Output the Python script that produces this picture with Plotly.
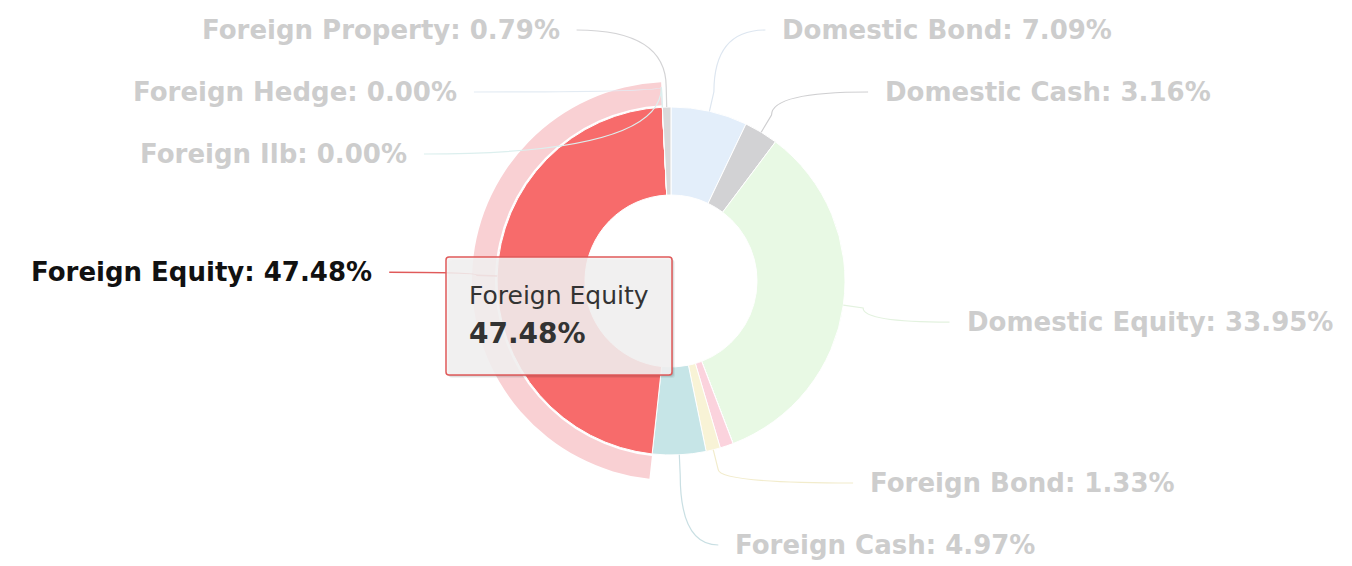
import numpy as np
import plotly.graph_objects as go

# ---------------- data ----------------
names = ["Domestic Bond", "Domestic Cash", "Domestic Equity", "Domestic Ilb",
         "Domestic Hedge", "Domestic Property", "Foreign Bond", "Foreign Cash",
         "Foreign Equity", "Foreign Ilb", "Foreign Hedge", "Foreign Property"]
values = [7.09, 3.16, 33.95, 0.00, 0.00, 1.23, 1.33, 4.97, 47.48, 0.00, 0.00, 0.79]
# labels that are visible in the reference (the others are hidden by overlap)
labelled = [True, True, True, False, False, False, True, True, True, True, True, True]
active = "Foreign Equity"

# ---------------- style ----------------
slice_colors = ["#e3eefa", "#d2d2d4", "#e8f9e4", "#fdecde", "#e6e7fb", "#fbd3dd",
                "#f8f3d6", "#c6e5e7", "#f76b6b", "#def8f6", "#e5f0fb", "#d9d9da"]
conn_colors = ["#dde6f0", "#cfcfd1", "#e3f2df", "#f5e6da", "#e2e3f4", "#f5d3dc",
               "#f2eccc", "#c9dfe3", "#e05a5a", "#dcefee", "#e3ebf3", "#d3d3d5"]
halo_color = "#f9d0d3"
W, H = 1352, 566
page_off = 8          # default body margin of the html page
cx, cy = 671 - page_off, 281 - page_off
R = 174
R_hole = 86
R_halo_in, R_halo_out = 176, 199
label_r = 295
ell_a, ell_b = 297, 270
y_min, y_max = 30 - page_off, 545 - page_off
slot = 62
gap = 15
font = "DejaVu Sans"

vals = np.array(values, float)
total = vals.sum()
cum = np.concatenate([[0.0], np.cumsum(vals)])[:-1]
mid = 360.0 * (cum + vals / 2) / total
rad = np.radians(mid)
n = len(vals)


def dom(r):
    return dict(x=[(cx - r) / W, (cx + r) / W], y=[(H - cy - r) / H, (H - cy + r) / H])


fig = go.Figure()

# hover halo around the active slice
fig.add_trace(go.Pie(
    labels=names, values=values, sort=False, direction="clockwise", rotation=0,
    hole=R_halo_in / R_halo_out, domain=dom(R_halo_out),
    marker=dict(colors=[halo_color if nm == active else "rgba(0,0,0,0)" for nm in names],
                line=dict(width=0)),
    textinfo="none", hoverinfo="skip", showlegend=False))

# main donut
fig.add_trace(go.Pie(
    labels=names, values=values, sort=False, direction="clockwise", rotation=0,
    hole=R_hole / R, domain=dom(R),
    marker=dict(colors=slice_colors, line=dict(color="white", width=1)),
    textinfo="none", hoverinfo="skip", showlegend=False))

# ---------------- label layout (Highcharts-like) ----------------
natural_y = cy - label_r * np.cos(rad)
right = [i for i in range(n) if labelled[i] and mid[i] < 180]
left = [i for i in range(n) if labelled[i] and mid[i] >= 180]


def distribute(idx):
    order = sorted(idx, key=lambda i: (round(natural_y[i], 6), -i))
    ys = [natural_y[i] for i in order]
    for k in range(len(ys)):
        lo = y_min if k == 0 else ys[k - 1] + slot
        ys[k] = max(ys[k], lo)
    for k in range(len(ys) - 1, -1, -1):
        hi = y_max if k == len(ys) - 1 else ys[k + 1] - slot
        ys[k] = min(ys[k], hi)
    return dict(zip(order, ys))


slot_y = {}
slot_y.update(distribute(right))
slot_y.update(distribute(left))

shapes = []
annotations = []
for i, ly in slot_y.items():
    side = 1 if mid[i] < 180 else -1
    dy = ly - cy
    t = max(0.0, 1 - (dy / ell_b) ** 2)
    lx = cx + side * ell_a * np.sqrt(t)
    px, py = cx + R * np.sin(rad[i]), cy - R * np.cos(rad[i])
    bx, by = cx + (R + 20) * np.sin(rad[i]), cy - (R + 20) * np.cos(rad[i])
    sx = lx - side * gap
    is_act = names[i] == active
    shapes.append(dict(
        type="path", xref="x", yref="y", layer="above",
        path=f"M {sx:.1f},{ly:.1f} Q {bx:.1f},{ly:.1f} {bx:.1f},{by:.1f} L {px:.1f},{py:.1f}",
        line=dict(color=conn_colors[i], width=1.5 if is_act else 1.2)))
    annotations.append(dict(
        x=lx, y=ly, xref="x", yref="y", showarrow=False,
        xanchor="left" if side > 0 else "right", yanchor="middle",
        text=f"<b>{names[i]}: {values[i]:.2f}%</b>",
        font=dict(family=font, size=26, color="#111111" if is_act else "#cdcdcd")))

# ---------------- tooltip ----------------
ia = names.index(active)
tx0, tx1 = cx - 225, cx + 1
ty0, ty1 = cy - 24, cy + 94


def rrect(x0, y0, x1, y1, r):
    return (f"M {x0 + r},{y0} L {x1 - r},{y0} Q {x1},{y0} {x1},{y0 + r} "
            f"L {x1},{y1 - r} Q {x1},{y1} {x1 - r},{y1} L {x0 + r},{y1} "
            f"Q {x0},{y1} {x0},{y1 - r} L {x0},{y0 + r} Q {x0},{y0} {x0 + r},{y0} Z")


for k, a in [(3, 0.05), (2, 0.08), (1, 0.1)]:
    shapes.append(dict(type="path", xref="x", yref="y", layer="above",
                       path=rrect(tx0 + k, ty0 + k, tx1 + k, ty1 + k, 3),
                       fillcolor=f"rgba(0,0,0,{a})", line=dict(width=0)))
shapes.append(dict(type="path", xref="x", yref="y", layer="above",
                   path=rrect(tx0, ty0, tx1, ty1, 3),
                   fillcolor="rgba(248,247,247,0.86)",
                   line=dict(color="#e05a5a", width=1.5)))
annotations.append(dict(x=tx0 + 21, y=ty0 + 38, xref="x", yref="y", showarrow=False,
                        xanchor="left", yanchor="middle", text=names[ia],
                        font=dict(family=font, size=25, color="#333333")))
annotations.append(dict(x=tx0 + 21, y=ty0 + 76, xref="x", yref="y", showarrow=False,
                        xanchor="left", yanchor="middle", text=f"<b>{values[ia]:.2f}%</b>",
                        font=dict(family=font, size=28, color="#333333")))

fig.update_layout(
    width=W, height=H, autosize=False,
    margin=dict(l=0, r=0, t=0, b=0),
    paper_bgcolor="white", plot_bgcolor="rgba(0,0,0,0)",
    xaxis=dict(range=[0, W], visible=False, fixedrange=True),
    yaxis=dict(range=[H, 0], visible=False, fixedrange=True),
    shapes=shapes, annotations=annotations, showlegend=False,
)

fig.write_html("out.html")
